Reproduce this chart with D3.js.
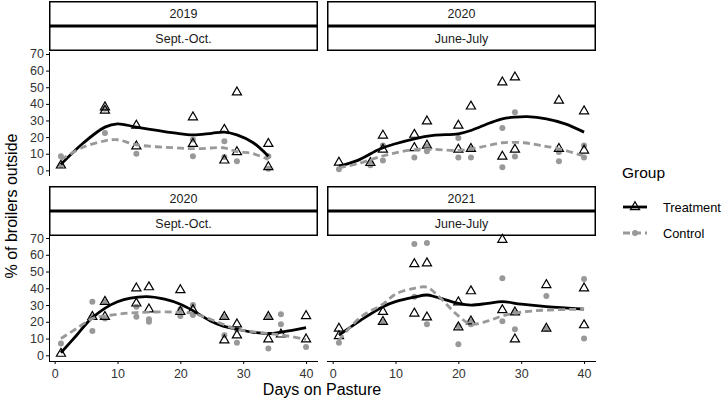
<!DOCTYPE html>
<html>
<head>
<meta charset="utf-8">
<script src="https://cdn.jsdelivr.net/npm/d3@7"></script>
<style>
	body { margin: 0; background: #fff; }
	svg { display: block; font-family: "Liberation Sans", Arial, sans-serif; }
</style>
</head>
<body>
<svg id="chart" width="722" height="400"></svg>
<script>
// facet labels
var years = ["2019", "2020", "2020", "2021"];
var seasons = ["Sept.-Oct.", "June-July", "Sept.-Oct.", "June-July"];
var groups = ["Treatment", "Control"];
var xTicks = [0, 10, 20, 30, 40];
var yTicks = [0, 10, 20, 30, 40, 50, 60, 70];

// raw points: [day, % outside]
var trt19SO = [[1,3],[8,38],[8,36],[13,27],[13,14.5],[22,32],[22,16],[27,24.5],[27,6],[29,47],[29,11],[34,16],[34,2]];
var ctl19SO = [[1,8.5],[1,3],[8,37],[8,22.5],[13,10],[22,18.5],[22,8.5],[27,17.5],[27,8],[29,5.5],[34,8.5],[34,1]];
var trt20JJ = [[1,4.7],[6,4.5],[8,21],[8,12.5],[13,21.5],[13,13.5],[15,29.5],[15,15],[20,27],[20,12.5],[22,38.5],[22,13],[27,53],[27,8.3],[29,56],[29,12.5],[36,42],[36,13],[40,35.6],[40,12]];
var ctl20JJ = [[1,0.6],[6,4.5],[6,3],[8,15],[8,6],[13,7.7],[15,11.5],[15,14.5],[20,19.5],[20,7.7],[22,13],[22,7.7],[27,25.5],[27,1.8],[29,35],[29,8.3],[36,11],[36,5.5],[40,15],[40,7.7]];
var trt20SO = [[1,1],[6,23],[8,32],[8,23],[13,40],[13,31],[15,40.7],[15,27.5],[20,39],[20,26],[22,27],[27,23],[27,9],[29,18.5],[29,12],[34,23],[34,9.6],[36,12.5],[40,23.5],[40,9.6]];
var ctl20SO = [[1,7],[6,32],[6,23],[6,14.5],[8,32],[8,22],[13,29],[13,23],[15,21.5],[15,20],[20,27.5],[20,23.5],[22,30],[22,24],[27,23],[27,12],[29,15.5],[29,7.5],[34,23],[34,4],[36,24.5],[36,18.5],[40,5]];
var trt21JJ = [[1,16],[1,11.5],[8,26],[8,20],[13,54.5],[13,25],[15,55],[15,22.7],[20,31.7],[20,16.8],[22,38.3],[22,20.3],[27,69],[27,27],[29,25.7],[29,9.6],[34,42],[34,16],[40,40],[40,18]];
var ctl21JJ = [[1,7.5],[8,20],[13,66.5],[13,35],[15,67],[15,18.6],[20,17.4],[20,6.6],[22,18.6],[22,20.3],[27,46],[27,20.3],[29,25.7],[29,15.6],[34,35.4],[34,16],[40,45.5],[40,10]];

// loess curves: [day, fitted %]
var fitTrt19SO = [[1,3.6],[4.6,16.6],[8,26],[10,28],[13,26],[19,22.5],[22,21.3],[25,22.3],[27,23],[29,21.3],[31.6,16.6],[34,8.5]];
var fitCtl19SO = [[1,6.5],[4.6,14],[8,17.8],[10,18.4],[13,15.4],[19,13.6],[22.7,13],[26.8,13.6],[29,11.3],[31.6,10],[34,6.5]];
var fitTrt20JJ = [[1,2.5],[4,6],[7.6,13],[10,16],[13,19],[16,21],[20,22],[22,24],[25,28.5],[27,31],[29,32],[31,32.3],[34,31],[37,28],[40,23]];
var fitCtl20JJ = [[1,1.5],[4,4],[7.6,8.3],[10,10.5],[13,12.5],[16,12.6],[20,12],[23.6,14],[27,16.6],[30.4,16.6],[33,15],[36,13],[40,8.5]];
var fitTrt20SO = [[1,1.5],[3.5,12],[6,22.5],[10,32],[14.5,35],[17.5,33.5],[20,30.5],[21.6,27.5],[24.8,20.5],[26.8,17.4],[29,15.6],[31.6,13.7],[34,13],[36.3,14],[40,16.5]];
var fitCtl20SO = [[1,10],[3.5,16],[6,22],[8,23.5],[13,25.5],[20,25.7],[22,25],[24.8,21.5],[26.8,18.5],[29,15.5],[34,13],[36.3,12],[40,9.5]];
var fitTrt21JJ = [[1,12],[4.5,21],[8,29],[10,32],[13,34.7],[15,36],[16.5,34.7],[20,31],[22,30],[24.7,31],[27,32],[30,30.5],[34,29],[40,27.5]];
var fitCtl21JJ = [[1,9],[4.5,23],[8,30.5],[10,36.5],[13,40],[15,40.7],[16.5,36.5],[20,23.5],[22,18.6],[24.7,20.5],[27,23.5],[30,25.7],[34,27],[40,27.5]];

var panels = [
	{ trt: trt19SO, ctl: ctl19SO, fitTrt: fitTrt19SO, fitCtl: fitCtl19SO },
	{ trt: trt20JJ, ctl: ctl20JJ, fitTrt: fitTrt20JJ, fitCtl: fitCtl20JJ },
	{ trt: trt20SO, ctl: ctl20SO, fitTrt: fitTrt20SO, fitCtl: fitCtl20SO },
	{ trt: trt21JJ, ctl: ctl21JJ, fitTrt: fitTrt21JJ, fitCtl: fitCtl21JJ }
];

var svg = d3.select("#chart");
var grey = "#999999";

var colX = [[49, 318], [327, 596]];
var rowY = [{ strip: 1, top: 52, bottom: 176 }, { strip: 186, top: 236, bottom: 361 }];
var stripH = 24.5;

var triangle = d3.symbol().type(d3.symbolTriangle).size(36);

panels.forEach(function(p, i) {
	var col = i % 2, row = Math.floor(i / 2);
	var cx = colX[col], ry = rowY[row];

	var x = d3.scaleLinear().domain([-0.9, 41.9]).range(cx);
	var y = d3.scaleLinear().domain([-3.4, 71.2]).range([ry.bottom, ry.top]);

	var g = svg.append("g").attr("class", "panel");

	// strips
	[years[i], seasons[i]].forEach(function(label, k) {
		var sy = ry.strip + k * (stripH + 0.5);
		g.append("rect")
			.attr("x", cx[0] + 0.75)
			.attr("y", sy + 0.75)
			.attr("width", cx[1] - cx[0] - 1.5)
			.attr("height", stripH - 1)
			.attr("fill", "#fff")
			.attr("stroke", "#000")
			.attr("stroke-width", 1.5);
		g.append("text")
			.attr("x", (cx[0] + cx[1]) / 2)
			.attr("y", sy + stripH / 2 + 4.5)
			.attr("text-anchor", "middle")
			.attr("font-size", 12.5)
			.attr("fill", "#1a1a1a")
			.text(label);
	});

	// y axis on left column
	if (col === 0) {
		var ya = g.append("g")
			.attr("transform", "translate(" + cx[0] + ",0)")
			.call(d3.axisLeft(y).tickValues(yTicks).tickSize(3).tickPadding(2));
		ya.select(".domain").attr("stroke-width", 1).attr("d", "M0.5," + ry.top + "V" + ry.bottom);
		ya.selectAll(".tick line").attr("stroke-width", 1);
		ya.selectAll("text").attr("font-size", 12.5).attr("fill", "#333").attr("font-family", null);
	}

	// x axis on bottom row
	if (row === 1) {
		var xa = g.append("g")
			.attr("transform", "translate(0," + ry.bottom + ")")
			.call(d3.axisBottom(x).tickValues(xTicks).tickSize(3).tickPadding(5));
		xa.select(".domain").attr("stroke-width", 1).attr("d", "M" + cx[0] + ",0.5H" + cx[1]);
		xa.selectAll(".tick line").attr("stroke-width", 1);
		xa.selectAll("text").attr("font-size", 12.5).attr("fill", "#333").attr("font-family", null);
	}

	// points
	g.selectAll(".ctl")
		.data(p.ctl)
		.enter()
		.append("circle")
		.attr("class", "ctl")
		.attr("cx", (d) => x(d[0]))
		.attr("cy", (d) => y(d[1]))
		.attr("r", 3)
		.attr("fill", grey);

	g.selectAll(".trt")
		.data(p.trt)
		.enter()
		.append("path")
		.attr("class", "trt")
		.attr("d", triangle)
		.attr("transform", (d) => "translate(" + x(d[0]) + "," + y(d[1]) + ")")
		.attr("fill", "none")
		.attr("stroke", "#000")
		.attr("stroke-width", 1.2);

	// smooth lines
	var line = d3.line()
		.x((d) => x(d[0]))
		.y((d) => y(d[1]))
		.curve(d3.curveCatmullRom.alpha(0.5));

	g.append("path")
		.attr("d", line(p.fitTrt))
		.attr("fill", "none")
		.attr("stroke", "#000")
		.attr("stroke-width", 2.8);

	g.append("path")
		.attr("d", line(p.fitCtl))
		.attr("fill", "none")
		.attr("stroke", grey)
		.attr("stroke-width", 2.8)
		.attr("stroke-dasharray", "7,4");
});

// axis titles
svg.append("text")
	.attr("x", 322)
	.attr("y", 395)
	.attr("text-anchor", "middle")
	.attr("font-size", 16)
	.text("Days on Pasture");

svg.append("text")
	.attr("transform", "translate(17,206) rotate(-90)")
	.attr("text-anchor", "middle")
	.attr("font-size", 16)
	.text("% of broilers outside");

// legend
var legend = svg.append("g").attr("transform", "translate(622,0)");
legend.append("text")
	.attr("x", 0)
	.attr("y", 178)
	.attr("font-size", 15.5)
	.text("Group");

groups.forEach(function(name, k) {
	var ky = 207 + k * 26;
	var isTrt = k === 0;
	legend.append("line")
		.attr("x1", 1).attr("x2", 25)
		.attr("y1", ky).attr("y2", ky)
		.attr("stroke", isTrt ? "#000" : grey)
		.attr("stroke-width", 2.8)
		.attr("stroke-dasharray", isTrt ? null : "7,4");
	if (isTrt) {
		legend.append("path")
			.attr("d", triangle)
			.attr("transform", "translate(13," + ky + ")")
			.attr("fill", "none")
			.attr("stroke", "#000")
			.attr("stroke-width", 1.2);
	} else {
		legend.append("circle")
			.attr("cx", 13).attr("cy", ky).attr("r", 3)
			.attr("fill", grey);
	}
	legend.append("text")
		.attr("x", 41)
		.attr("y", ky + 4.5)
		.attr("font-size", 12.8)
		.text(name);
});
</script>
</body>
</html>
